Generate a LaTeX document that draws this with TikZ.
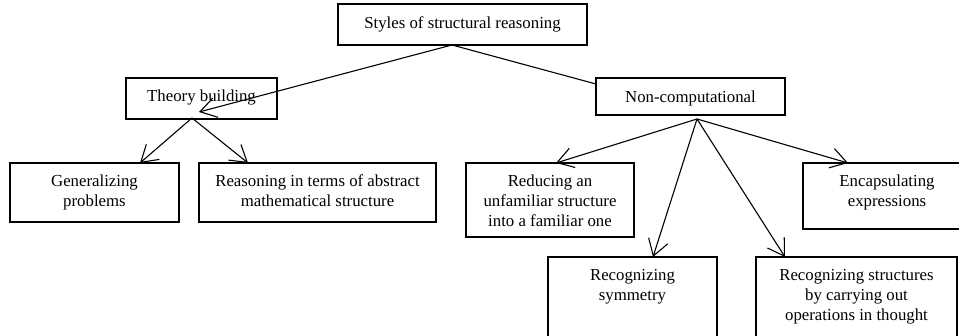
\documentclass[tikz,border=0pt]{standalone}
\usepackage{fontspec}
\setmainfont{Liberation Serif}
\usetikzlibrary{arrows.meta}
\begin{document}
\begin{tikzpicture}[x=1pt,y=-1pt,
  box/.style={draw, line width=1.1pt, inner sep=0pt},
  lbl/.style={anchor=north, inner sep=0pt, align=center, font=\fontsize{16.8}{19.7}\selectfont},
  arr/.style={line width=1.1pt, -{Straight Barb[length=16pt,width=20pt,line width=1.1pt]}},
  con/.style={line width=1.1pt}]
\useasboundingbox (0,0) rectangle (959,336);
\clip (0,0) rectangle (959,336);
% boxes
\node[box, minimum width=249pt, minimum height=41pt] (root) at (462.5,24.5) {};
\node[box, minimum width=151pt, minimum height=41pt] (tb) at (201.5,98.5) {};
\node[box, minimum width=189pt, minimum height=37pt] (nc) at (690.5,96.5) {};
\node[box, minimum width=169pt, minimum height=59pt] (gen) at (94.5,192.5) {};
\node[box, minimum width=237pt, minimum height=59pt] (rea) at (317.5,192.5) {};
\node[box, minimum width=168pt, minimum height=74pt] (red) at (550,200) {};
\node[box, minimum width=168pt, minimum height=66pt] (enc) at (887,196) {};
\node[box, minimum width=169pt, minimum height=100pt] (sym) at (632.5,307) {};
\node[box, minimum width=201pt, minimum height=100pt] (str) at (856.5,307) {};
% labels
\node[lbl] (rootL) at ([yshift=-10.7pt]root.north) {\strut Styles of structural reasoning};
\node[lbl] (tbL) at ([yshift=-10.2pt]tb.north) {\strut Theory building};
\node[lbl] (ncL) at ([yshift=-10.7pt]nc.north) {\strut Non-computational};
\node[lbl] (genL) at ([yshift=-10.5pt]gen.north) {\strut Generalizing\\problems};
\node[lbl] (reaL) at ([yshift=-10.5pt]rea.north) {\strut Reasoning in terms of abstract\\mathematical structure};
\node[lbl] (redL) at ([yshift=-10.5pt]red.north) {\strut Reducing an\\unfamiliar structure\\into a familiar one};
\node[lbl] (encL) at ([yshift=-10.5pt]enc.north) {\strut Encapsulating\\expressions};
\node[lbl] (symL) at ([yshift=-10.5pt]sym.north) {\strut Recognizing\\symmetry};
\node[lbl] (strL) at ([yshift=-10.5pt]str.north) {\strut Recognizing structures\\by carrying out\\operations in thought};
% connector points
\coordinate (rootout) at (452,45);
\coordinate (tbin) at (199,112);
\coordinate (ncin) at (596,84);
\coordinate (tbout) at (192,118);
\coordinate (ncout) at (697,119);
\coordinate (genin) at (140,163);
\coordinate (reain) at (248,163);
\coordinate (redin) at (556,163);
\coordinate (symin) at (653,257);
\coordinate (strin) at (785,257);
\coordinate (encin) at (848,163);
% connectors
\draw[arr] (rootout) -- (tbin);
\draw[con] (rootout) -- (ncin);
\draw[arr] (tbout) -- (genin);
\draw[arr] (tbout) -- (reain);
\draw[arr] (ncout) -- (redin);
\draw[arr] (ncout) -- (symin);
\draw[arr] (ncout) -- (strin);
\draw[arr] (ncout) -- (encin);
\end{tikzpicture}
\end{document}
